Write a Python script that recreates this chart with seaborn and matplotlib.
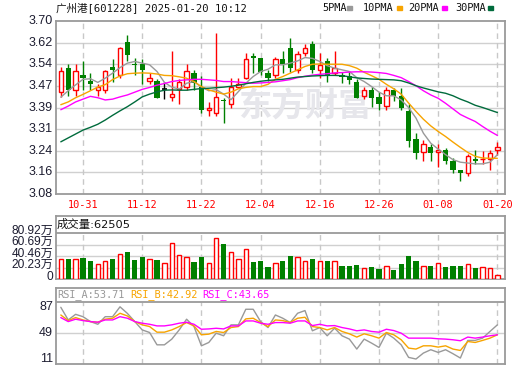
import matplotlib
matplotlib.use("Agg")
import matplotlib.pyplot as plt
import matplotlib.transforms as mtrans
from matplotlib.patches import Rectangle
import numpy as np
import pandas as pd
import seaborn as sns

sns.set_theme(style="white")
plt.rcParams['font.family'] = ['DejaVu Sans', 'Noto Sans CJK SC']

# ---------------- data ----------------
dates = ['10-28', '10-29', '10-30', '10-31', '11-01', '11-04', '11-05', '11-06', '11-07', '11-08',
         '11-11', '11-12', '11-13', '11-14', '11-15', '11-18', '11-19', '11-20', '11-21', '11-22',
         '11-25', '11-26', '11-27', '11-28', '11-29', '12-02', '12-03', '12-04', '12-05', '12-06',
         '12-09', '12-10', '12-11', '12-12', '12-13', '12-16', '12-17', '12-18', '12-19', '12-20',
         '12-23', '12-24', '12-25', '12-26', '12-27', '12-30', '12-31', '01-02', '01-03', '01-06',
         '01-07', '01-08', '01-09', '01-10', '01-13', '01-14', '01-15', '01-16', '01-17', '01-20']

opens = [3.444, 3.533, 3.454, 3.506, 3.484, 3.453, 3.454, 3.534, 3.506, 3.626,
         3.546, 3.545, 3.485, 3.484, 3.456, 3.426, 3.456, 3.465, 3.513, 3.463,
         3.382, 3.372, 3.418, 3.403, 3.465, 3.497, 3.576, 3.566, 3.513, 3.507,
         3.565, 3.605, 3.525, 3.587, 3.617, 3.525, 3.555, 3.515, 3.505, 3.504,
         3.483, 3.433, 3.451, 3.429, 3.394, 3.452, 3.430, 3.379, 3.277, 3.229,
         3.248, 3.229, 3.236, 3.199, 3.165, 3.157, 3.205, 3.204, 3.206, 3.239]
highs = [3.534, 3.545, 3.545, 3.555, 3.512, 3.475, 3.525, 3.565, 3.607, 3.650,
         3.566, 3.565, 3.515, 3.491, 3.483, 3.594, 3.491, 3.545, 3.525, 3.504,
         3.411, 3.656, 3.425, 3.495, 3.495, 3.587, 3.587, 3.567, 3.525, 3.572,
         3.594, 3.638, 3.594, 3.617, 3.628, 3.587, 3.566, 3.594, 3.519, 3.521,
         3.491, 3.465, 3.462, 3.445, 3.465, 3.459, 3.459, 3.402, 3.298, 3.274,
         3.259, 3.259, 3.245, 3.209, 3.165, 3.224, 3.236, 3.233, 3.236, 3.268]
lows = [3.426, 3.433, 3.433, 3.453, 3.452, 3.432, 3.441, 3.483, 3.495, 3.557,
        3.507, 3.475, 3.475, 3.423, 3.420, 3.414, 3.403, 3.453, 3.453, 3.372,
        3.360, 3.360, 3.333, 3.390, 3.459, 3.491, 3.513, 3.505, 3.485, 3.495,
        3.513, 3.519, 3.513, 3.575, 3.513, 3.495, 3.483, 3.505, 3.477, 3.474,
        3.423, 3.421, 3.391, 3.382, 3.382, 3.414, 3.382, 3.250, 3.206, 3.199,
        3.199, 3.177, 3.188, 3.155, 3.128, 3.145, 3.188, 3.187, 3.167, 3.221]
closes = [3.522, 3.453, 3.522, 3.496, 3.475, 3.463, 3.522, 3.525, 3.605, 3.578,
          3.541, 3.525, 3.495, 3.423, 3.456, 3.440, 3.483, 3.522, 3.477, 3.382,
          3.390, 3.429, 3.412, 3.462, 3.473, 3.565, 3.569, 3.516, 3.495, 3.565,
          3.546, 3.533, 3.582, 3.605, 3.525, 3.543, 3.505, 3.533, 3.500, 3.487,
          3.423, 3.451, 3.423, 3.402, 3.451, 3.430, 3.390, 3.270, 3.227, 3.259,
          3.227, 3.236, 3.199, 3.167, 3.157, 3.215, 3.199, 3.207, 3.227, 3.247]

ma5 = [3.427, 3.450, 3.471, 3.491, 3.493, 3.480, 3.495, 3.513, 3.533, 3.549,
       3.555, 3.549, 3.543, 3.519, 3.480, 3.463, 3.456, 3.477, 3.483, 3.463,
       3.450, 3.454, 3.438, 3.418, 3.447, 3.477, 3.501, 3.519, 3.527, 3.543,
       3.543, 3.549, 3.557, 3.569, 3.566, 3.555, 3.540, 3.531, 3.525, 3.519,
       3.497, 3.483, 3.465, 3.445, 3.432, 3.432, 3.417, 3.390, 3.352, 3.298,
       3.262, 3.241, 3.221, 3.203, 3.194, 3.191, 3.188, 3.188, 3.194, 3.221]
ma10 = [3.400, 3.410, 3.425, 3.437, 3.450, 3.463, 3.472, 3.490, 3.503, 3.511,
        3.513, 3.514, 3.513, 3.510, 3.505, 3.504, 3.500, 3.495, 3.483, 3.465,
        3.453, 3.445, 3.438, 3.445, 3.457, 3.462, 3.465, 3.465, 3.473, 3.491,
        3.501, 3.513, 3.525, 3.537, 3.545, 3.546, 3.545, 3.545, 3.545, 3.540,
        3.531, 3.516, 3.504, 3.491, 3.473, 3.457, 3.438, 3.406, 3.376, 3.348,
        3.324, 3.304, 3.286, 3.266, 3.247, 3.229, 3.215, 3.209, 3.208, 3.208]
ma20 = [3.382, 3.395, 3.410, 3.420, 3.430, 3.425, 3.417, 3.420, 3.428, 3.435,
        3.445, 3.455, 3.462, 3.470, 3.476, 3.483, 3.487, 3.489, 3.491, 3.491,
        3.489, 3.487, 3.483, 3.483, 3.481, 3.479, 3.477, 3.478, 3.480, 3.482,
        3.486, 3.490, 3.497, 3.502, 3.506, 3.509, 3.511, 3.514, 3.515, 3.517,
        3.518, 3.518, 3.517, 3.515, 3.512, 3.505, 3.497, 3.483, 3.468, 3.450,
        3.435, 3.423, 3.405, 3.385, 3.365, 3.352, 3.340, 3.322, 3.305, 3.290]
ma30 = [3.267, 3.281, 3.295, 3.309, 3.319, 3.330, 3.345, 3.362, 3.378, 3.393,
        3.410, 3.428, 3.438, 3.446, 3.452, 3.453, 3.452, 3.452, 3.455, 3.458,
        3.459, 3.461, 3.463, 3.466, 3.470, 3.475, 3.480, 3.484, 3.487, 3.489,
        3.491, 3.495, 3.499, 3.501, 3.503, 3.504, 3.505, 3.505, 3.504, 3.500,
        3.496, 3.494, 3.492, 3.491, 3.490, 3.489, 3.486, 3.478, 3.468, 3.460,
        3.453, 3.446, 3.441, 3.432, 3.420, 3.410, 3.398, 3.390, 3.381, 3.372]

volume_wan = [34.4, 34.4, 35.6, 36.7, 31.0, 25.8, 32.1, 35.6, 43.6, 48.2,
              32.7, 37.9, 34.4, 32.7, 28.7, 63.1, 42.4, 39.0, 29.3, 37.9,
              28.7, 71.6, 61.9, 47.6, 34.4, 52.7, 30.4, 31.0, 20.7, 28.7,
              31.0, 41.3, 37.9, 31.0, 34.4, 31.0, 31.0, 31.0, 22.4, 22.4,
              24.1, 18.9, 20.7, 17.2, 23.5, 15.5, 25.8, 39.6, 31.0, 23.5,
              22.4, 28.7, 20.7, 23.5, 22.4, 27.0, 18.9, 21.8, 18.9, 6.25]

rsi_a = [80.5, 65.0, 71.9, 69.0, 63.0, 59.7, 69.0, 69.0, 81.1, 73.0,
         63.0, 52.8, 49.6, 34.5, 34.5, 41.5, 52.8, 65.9, 56.9, 33.3,
         37.4, 48.8, 45.6, 59.0, 59.0, 78.1, 78.1, 63.0, 55.7, 71.1,
         67.1, 61.8, 73.2, 76.5, 51.7, 55.7, 45.6, 54.9, 45.6, 41.5,
         29.3, 41.5, 36.6, 31.3, 48.8, 42.7, 34.5, 19.1, 17.1, 24.4,
         28.5, 25.2, 28.5, 23.6, 18.3, 39.9, 39.9, 42.7, 50.9, 59.0]
rsi_b = [71.1, 64.2, 67.9, 65.0, 63.0, 62.2, 65.9, 67.1, 73.2, 69.9,
         63.0, 59.0, 56.9, 50.0, 50.0, 52.8, 56.9, 61.8, 57.7, 46.8,
         47.6, 50.9, 49.6, 55.7, 56.9, 66.3, 67.1, 61.8, 56.9, 65.0,
         64.2, 61.8, 67.1, 68.3, 56.9, 55.7, 52.8, 55.7, 50.9, 48.0,
         44.0, 48.0, 45.6, 42.7, 49.6, 46.8, 40.7, 30.5, 29.3, 33.3,
         33.3, 31.7, 33.3, 29.3, 27.6, 38.6, 37.4, 39.9, 42.7, 46.8]
rsi_c = [67.9, 63.0, 65.9, 64.2, 63.0, 62.2, 65.0, 65.0, 69.0, 67.1,
         63.0, 61.0, 59.7, 57.7, 57.7, 59.0, 61.0, 62.2, 59.7, 53.6,
         54.0, 54.8, 54.0, 57.7, 57.7, 63.8, 63.8, 61.0, 59.7, 61.8,
         61.8, 61.0, 63.8, 63.8, 58.1, 59.7, 57.7, 58.1, 55.7, 54.0,
         51.7, 52.8, 50.9, 50.0, 53.6, 52.0, 48.8, 42.7, 42.7, 42.7,
         42.7, 41.9, 41.5, 40.7, 39.5, 44.0, 42.7, 44.0, 45.6, 46.8]

price_tick_labels = ['3.70', '3.62', '3.54', '3.47', '3.39', '3.31', '3.24', '3.16', '3.08']
price_max, price_min = 3.70, 3.08
vol_tick_values = [80.92, 60.69, 40.46, 20.23, 0]
vol_tick_labels = ['80.92万', '60.69万', '40.46万', '20.23万', '0']
rsi_tick_values = [87, 49, 11]
date_ticks = ['10-31', '11-12', '11-22', '12-04', '12-16', '12-26', '01-08', '01-20']

title = '广州港[601228] 2025-01-20 10:12'
ma_names = ['5PMA', '10PMA', '20PMA', '30PMA']
vol_header = '成交量:62505'
rsi_headers = ['RSI_A:53.71', 'RSI_B:42.92', 'RSI_C:43.65']

# ---------------- styling ----------------
RED = '#ff0000'
GREEN = '#008000'
MA_COLORS = ['#999999', '#f7a400', '#ff00ff', '#006b3c']
RSI_COLORS = ['#999999', '#f7a400', '#ff00ff']
FRAME = '#9a9a9a'
GRID = '#d0d0d0'
VDASH = '#c8c8c8'
LABEL = '#1c1c30'

df = pd.DataFrame({'idx': np.arange(len(dates)), 'date': dates,
                   'open': opens, 'high': highs, 'low': lows, 'close': closes,
                   'ma5': ma5, 'ma10': ma10, 'ma20': ma20, 'ma30': ma30,
                   'vol': volume_wan, 'rsi_a': rsi_a, 'rsi_b': rsi_b, 'rsi_c': rsi_c})

W, H = 520, 365
fig = plt.figure(figsize=(W / 100, H / 100), dpi=100)
fig.patch.set_facecolor('white')


def rect(left, top, right, bottom):
    return [left / W, 1 - bottom / H, (right - left) / W, (bottom - top) / H]


ax_p = fig.add_axes(rect(56, 21, 505, 194))
ax_v = fig.add_axes(rect(56, 216, 505, 279))
ax_r = fig.add_axes(rect(56, 288, 505, 364))

XLIM = (-0.65, 60.03)
date_idx = [dates.index(d) for d in date_ticks]

for ax in (ax_p, ax_v, ax_r):
    ax.set_facecolor('white')
    ax.set_xlim(*XLIM)
    for s in ax.spines.values():
        s.set_color(FRAME)
        s.set_linewidth(1.3)
        s.set_visible(True)
    ax.set_xticks([])
    ax.set_yticks([])


def ylabels(ax, values, labels, dy_px=0.0, va='center', family=None, size=9):
    tr = mtrans.blended_transform_factory(ax.transAxes, ax.transData) + \
        mtrans.ScaledTranslation(-3 / 100, dy_px / 100, fig.dpi_scale_trans)
    for v, lab in zip(values, labels):
        ax.text(0, v, lab, transform=tr, ha='right', va=va, fontsize=size,
                color=LABEL, family=family or ['Liberation Sans', 'Noto Sans CJK SC'],
                clip_on=False)


# ---------------- price panel ----------------
ax_p.set_ylim(price_min, price_max)
price_pos = np.linspace(price_max, price_min, len(price_tick_labels))
for y in price_pos[1:-1]:
    ax_p.axhline(y, color=GRID, lw=1, zorder=1)
for i in date_idx:
    ax_p.axvline(i, color=VDASH, lw=1, ls=(0, (4, 3)), zorder=1)
ylabels(ax_p, price_pos, price_tick_labels)

ax_p.text(0.555, 0.503, '东方财富', transform=ax_p.transAxes, fontsize=24,
          color='#e6e6eb', weight='bold', family='Noto Sans CJK SC',
          ha='center', va='center', zorder=1.5)

for r in df.itertuples():
    o, h, l, c, i = r.open, r.high, r.low, r.close, r.idx
    top, bot = max(o, c), min(o, c)
    if c > o:
        ax_p.vlines(i, top, h, color=RED, lw=1, zorder=3)
        ax_p.vlines(i, l, bot, color=RED, lw=1, zorder=3)
        ax_p.bar(i, top - bot, bottom=bot, width=0.58, facecolor='white',
                 edgecolor=RED, lw=1, zorder=3)
    elif c < o:
        ax_p.vlines(i, l, h, color=GREEN, lw=1, zorder=3)
        ax_p.bar(i, top - bot, bottom=bot, width=0.72, color=GREEN, lw=0, zorder=3)
    else:
        ax_p.vlines(i, l, h, color='black', lw=1, zorder=3)
        ax_p.hlines(c, i - 0.36, i + 0.36, color='black', lw=1.2, zorder=3)

for col, colr in zip(['ma5', 'ma10', 'ma20', 'ma30'], MA_COLORS):
    sns.lineplot(data=df, x='idx', y=col, ax=ax_p, color=colr, lw=1.0, zorder=4)
ax_p.set_xlabel('')
ax_p.set_ylabel('')
ax_p.set_xlim(*XLIM)

date_tr = mtrans.blended_transform_factory(ax_p.transData, ax_p.transAxes)
for i, d in zip(date_idx, date_ticks):
    ax_p.text(i, -11 / 173, d, transform=date_tr, ha='center', va='center',
              fontsize=7.4, color=RED, family='DejaVu Sans Mono', clip_on=False)

# title & legend
fig.text(56 / W, 1 - 8 / H, title, fontsize=7.6, color='#111111',
         family=['DejaVu Sans Mono', 'Noto Sans CJK SC'], ha='left', va='center')
legend_text_x = [322, 363, 408, 455]
legend_box_x = [347, 397, 442, 488]
for name, colr, tx, bx in zip(ma_names, MA_COLORS, legend_text_x, legend_box_x):
    fig.text(tx / W, 1 - 8 / H, name, fontsize=7.4, color='#111111',
             family='DejaVu Sans Mono', ha='left', va='center')
    fig.patches.append(Rectangle((bx / W, 1 - 10 / H), 5 / W, 4 / H,
                                 transform=fig.transFigure, color=colr, figure=fig))

# ---------------- volume panel ----------------
vmax = vol_tick_values[0]
ax_v.set_ylim(0, vmax * 63 / 46)
ax_v.axhline(vmax, color=FRAME, lw=1.3, zorder=2)
for y in vol_tick_values[1:-1]:
    ax_v.axhline(y, color=GRID, lw=1, zorder=1)
ax_v.vlines(date_idx, 0, vmax, color=VDASH, lw=1, linestyles=(0, (4, 3)), zorder=1)
for r in df.itertuples():
    if r.close >= r.open:
        ax_v.bar(r.idx, r.vol, width=0.58, facecolor='white', edgecolor=RED, lw=1, zorder=3)
    else:
        ax_v.bar(r.idx, r.vol, width=0.72, color=GREEN, lw=0, zorder=3)
ylabels(ax_v, vol_tick_values, vol_tick_labels, dy_px=2.5, size=8.6)
ax_v.text(1 / 449, 1 - 8.5 / 63, vol_header, transform=ax_v.transAxes, ha='left', va='center',
          fontsize=8.2, color='#111111', family=['DejaVu Sans', 'Noto Sans CJK SC'])

# ---------------- RSI panel ----------------
rtop, rbot = rsi_tick_values[0], rsi_tick_values[-1]
ax_r.set_ylim(rbot, rbot + (rtop - rbot) * 76 / 62)
ax_r.axhline(rtop, color=FRAME, lw=1.3, zorder=2)
ax_r.axhline(rsi_tick_values[1], color=GRID, lw=1, zorder=1)
ax_r.vlines(date_idx, rbot, rtop, color=VDASH, lw=1, linestyles=(0, (4, 3)), zorder=1)
for col, colr in zip(['rsi_a', 'rsi_b', 'rsi_c'], RSI_COLORS):
    sns.lineplot(data=df, x='idx', y=col, ax=ax_r, color=colr, lw=1.0, zorder=3)
ax_r.set_xlabel('')
ax_r.set_ylabel('')
ax_r.set_xlim(*XLIM)
ax_r.set_ylim(rbot, rbot + (rtop - rbot) * 76 / 62)
ylabels(ax_r, [rtop], [str(rtop)], dy_px=-5)
ylabels(ax_r, [rsi_tick_values[1]], [str(rsi_tick_values[1])])
ylabels(ax_r, [rbot], [str(rbot)], dy_px=5)
hx = [57, 130, 202]
for txt, colr, x in zip(rsi_headers, RSI_COLORS, hx):
    fig.text(x / W, 1 - 295 / H, txt, fontsize=7.4, color=colr,
             family='DejaVu Sans Mono', ha='left', va='center')

fig.savefig('out.png', dpi=100, facecolor='white')
